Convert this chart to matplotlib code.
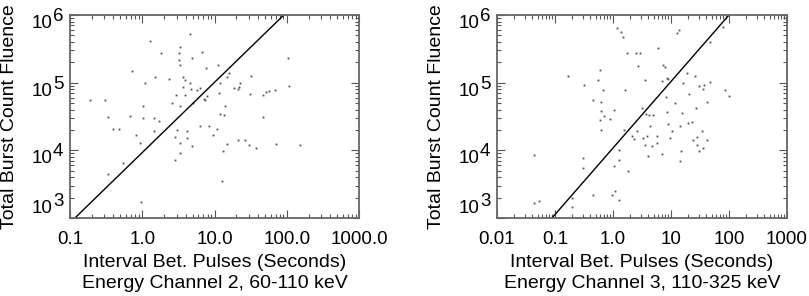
import matplotlib

matplotlib.use("Agg")
import matplotlib.pyplot as plt
import numpy as np
from matplotlib.ticker import FixedFormatter, FixedLocator, LogLocator, NullFormatter
from matplotlib.transforms import offset_copy

plt.rcParams["font.family"] = ["Liberation Sans", "DejaVu Sans"]

# Energy channel 2 (60-110 keV): interval between pulses [s] vs fluence
CH2_INTERVAL = [
    0.19, 0.31, 0.34, 0.40, 0.47, 0.34, 0.55, 0.72, 0.68, 0.82,
    0.94, 0.96, 1.04, 1.02, 1.10, 1.29, 1.52, 1.47, 1.47, 1.69,
    1.84, 2.32, 2.58, 2.94, 2.87, 2.84, 3.03, 3.20, 3.27, 3.37,
    3.37, 3.37, 3.37, 3.30, 3.67, 3.67, 3.87, 3.96, 4.17, 4.17,
    4.54, 4.64, 4.74, 4.90, 4.85, 5.06, 5.74, 6.39, 6.39, 6.74,
    7.11, 7.74, 7.50, 7.91, 8.34, 9.58, 10.7, 11.1, 11.5, 11.9,
    12.1, 12.5, 13.1, 13.5, 14.1, 14.7, 15.0, 15.8, 18.6, 21.1,
    21.8, 21.1, 22.5, 26.1, 30.0, 31.0, 32.3, 37.1, 47.4, 51.1,
    56.9, 68.1, 47.4, 70.3, 104.0, 109.0, 152.0,
]
CH2_FLUENCE = [
    5.6e4, 5.6e4, 3.1e4, 2.1e4, 2.1e4, 4.5e3, 6.5e3, 1.5e5, 3.2e4, 1.7e4,
    1.3e4, 1.7e3, 4.5e4, 3.0e4, 9.9e4, 4.2e5, 1.2e5, 3.0e4, 1.9e4, 2.7e4,
    2.7e5, 1.15e5, 5.0e4, 6.6e4, 1.6e4, 7.1e3, 2.0e4, 2.2e5, 2.7e5, 3.4e5,
    1.8e5, 4.5e4, 1.3e4, 9.1e3, 1.2e5, 8.6e4, 1.1e5, 6.6e4, 1.9e4, 1.5e4,
    5.3e5, 9.9e4, 8.1e4, 2.3e5, 1.15e4, 5.0e4, 7.9e4, 2.3e4, 8.3e4, 2.8e5,
    5.8e4, 1.65e5, 5.6e4, 6.3e4, 2.3e4, 1.7e4, 2.1e4, 1.8e5, 7.0e4, 9.9e4,
    3.4e4, 3.5e3, 9.9e3, 3.3e4, 4.5e4, 1.26e4, 1.2e5, 1.4e5, 8.3e4, 8.1e4,
    8.6e4, 1.44e4, 1.0e5, 1.44e4, 1.2e4, 6.9e4, 1.27e5, 1.1e4, 6.5e4, 7.4e4,
    7.6e4, 7.7e4, 3.1e4, 1.23e4, 2.3e5, 9.0e4, 1.2e4,
]
CH2_FIT_X = [0.117, 91.0]
CH2_FIT_Y = [1e3, 1e6]
CH2_XTICKS = [0.1, 1.0, 10.0, 100.0, 1000.0]
CH2_XLABELS = ["0.1", "1.0", "10.0", "100.0", "1000.0"]

# Energy channel 3 (110-325 keV)
CH3_INTERVAL = [
    0.0435, 0.0537, 0.0435, 0.165, 0.316, 0.308, 0.308, 0.446, 0.446, 0.558,
    0.597, 0.612, 0.597, 0.630, 0.630, 0.70, 0.887, 0.948, 1.04, 1.04,
    1.08, 1.19, 1.25, 1.29, 1.29, 1.36, 1.51, 1.55, 1.61, 1.72,
    1.84, 2.15, 2.30, 2.46, 2.56, 2.73, 2.92, 3.21, 3.33, 3.56,
    3.56, 3.66, 3.91, 4.06, 4.23, 4.35, 4.96, 5.66, 5.81, 6.05,
    6.90, 6.90, 7.38, 7.88, 8.41, 9.0, 8.09, 8.65, 9.0, 10.3,
    11.7, 12.5, 13.9, 14.3, 14.7, 15.3, 16.3, 18.6, 20.7, 22.7,
    25.9, 27.0, 24.3, 28.5, 30.8, 33.8, 36.1, 37.1, 41.2, 41.2,
    47.0, 28.5, 30.8, 36.1, 85.3, 101.0, 78.9, 47.0, 19.9, 14.3,
    9.6, 4.65, 0.68, 0.196, 0.196,
]
CH3_FLUENCE = [
    1.67e3, 1.76e3, 8.5e3, 1.24e5, 9.1e4, 7.7e3, 5.5e3, 5.6e4, 2.16e3, 1.11e5,
    2.84e4, 3.77e4, 1.52e5, 2.02e4, 5.2e4, 3.18e4, 2.9e4, 2.21e3, 3.9e4, 5.8e3,
    2.48e3, 6.4e5, 1.87e3, 7.3e3, 1.02e4, 5.6e5, 4.7e5, 1.98e4, 7.9e4, 2.74e5,
    4.9e3, 1.61e4, 1.47e4, 2.74e5, 1.91e4, 1.74e5, 2.74e5, 4.23e4, 1.52e4, 1.11e5,
    1.19e4, 3.48e4, 1.61e4, 8.2e3, 3.37e4, 2.26e4, 3.37e4, 1.61e4, 1.28e4, 3.25e5,
    8.9e3, 1.05e5, 1.85e5, 1.71e5, 1.17e5, 1.13e5, 6.1e4, 3.64e4, 2.45e4, 1.91e4,
    5.0e4, 5.4e5, 6.1e5, 6.9e3, 9.7e3, 3.56e4, 9.9e4, 1.39e5, 6.9e4, 2.59e4,
    1.27e5, 4.23e4, 1.44e4, 1.57e4, 8.8e4, 1.91e4, 8.1e4, 9.3e4, 5.1e4, 1.44e4,
    1.02e5, 1.2e4, 9.7e3, 1.08e4, 7.9e4, 6.4e4, 6.7e5, 3.94e5, 2.54e4, 2.26e4,
    1.52e4, 1.14e4, 7.9e4, 2.0e3, 1.47e3,
]
CH3_FIT_X = [0.0887, 100.0]
CH3_FIT_Y = [1e3, 1e6]
CH3_XTICKS = [0.01, 0.1, 1.0, 10.0, 100.0, 1000.0]
CH3_XLABELS = ["0.01", "0.1", "1.0", "10", "100", "1000"]

YTICK_EXP = [3, 4, 5, 6]
PX = 0.72  # points per pixel at dpi 100


def draw_panel(fig, rect, xs, ys, fit_x, fit_y, xticks, xlabels, subtitle):
    ax = fig.add_axes(rect)
    ax.set_xscale("log")
    ax.set_yscale("log")
    ax.plot(xs, ys, ls="none", marker="s", ms=1.3, mew=0, color="#4d4d4d")
    ax.plot(fit_x, fit_y, color="black", lw=1.0)
    ax.set_xlim(xticks[0], xticks[-1])
    ax.set_ylim(10.0 ** YTICK_EXP[0], 10.0 ** YTICK_EXP[-1])

    ax.xaxis.set_major_locator(FixedLocator(xticks))
    ax.xaxis.set_major_formatter(FixedFormatter(xlabels))
    ax.xaxis.set_minor_locator(LogLocator(base=10, subs=np.arange(2, 10), numticks=30))
    ax.xaxis.set_minor_formatter(NullFormatter())
    ax.yaxis.set_major_locator(FixedLocator([10.0**e for e in YTICK_EXP]))
    ax.yaxis.set_major_formatter(NullFormatter())
    ax.yaxis.set_minor_locator(LogLocator(base=10, subs=np.arange(2, 10), numticks=30))
    ax.yaxis.set_minor_formatter(NullFormatter())
    ax.tick_params(which="both", direction="in", top=True, right=True,
                   color="#555555", width=0.8)
    ax.tick_params(which="major", length=5.5, pad=9, labelsize=13.5)
    ax.tick_params(which="minor", length=3)
    for sp in ax.spines.values():
        sp.set_color("#666666")
        sp.set_linewidth(1.3)

    # IDL style 10^n labels with a full-size exponent
    trans = ax.get_yaxis_transform()
    for e in YTICK_EXP:
        base_dy = 5 if e == YTICK_EXP[0] else -13
        t1 = offset_copy(trans, fig=fig, x=-17 * PX, y=base_dy * PX, units="points")
        ax.text(0, 10.0**e, "10", transform=t1, ha="right", va="baseline",
                fontsize=13.5)
        t2 = offset_copy(trans, fig=fig, x=-17 * PX, y=(base_dy + 7) * PX,
                         units="points")
        ax.text(0, 10.0**e, str(e), transform=t2, ha="left", va="baseline",
                fontsize=13.5)

    ax.set_ylabel("Total Burst Count Fluence", fontsize=14, va="center")
    ax.yaxis.set_label_coords(-0.21, 0.5)
    ax.set_xlabel("Interval Bet. Pulses (Seconds)\n" + subtitle, fontsize=14,
                  linespacing=1.3, labelpad=5)
    return ax


fig = plt.figure(figsize=(8.09, 2.96), dpi=100)
draw_panel(fig, [0.0865, 0.2635, 0.3573, 0.6858], CH2_INTERVAL, CH2_FLUENCE,
           CH2_FIT_X, CH2_FIT_Y, CH2_XTICKS, CH2_XLABELS,
           "Energy Channel 2, 60-110 keV")
draw_panel(fig, [0.6143, 0.2635, 0.3585, 0.6858], CH3_INTERVAL, CH3_FLUENCE,
           CH3_FIT_X, CH3_FIT_Y, CH3_XTICKS, CH3_XLABELS,
           "Energy Channel 3, 110-325 keV")
fig.savefig("out.png", dpi=100)
